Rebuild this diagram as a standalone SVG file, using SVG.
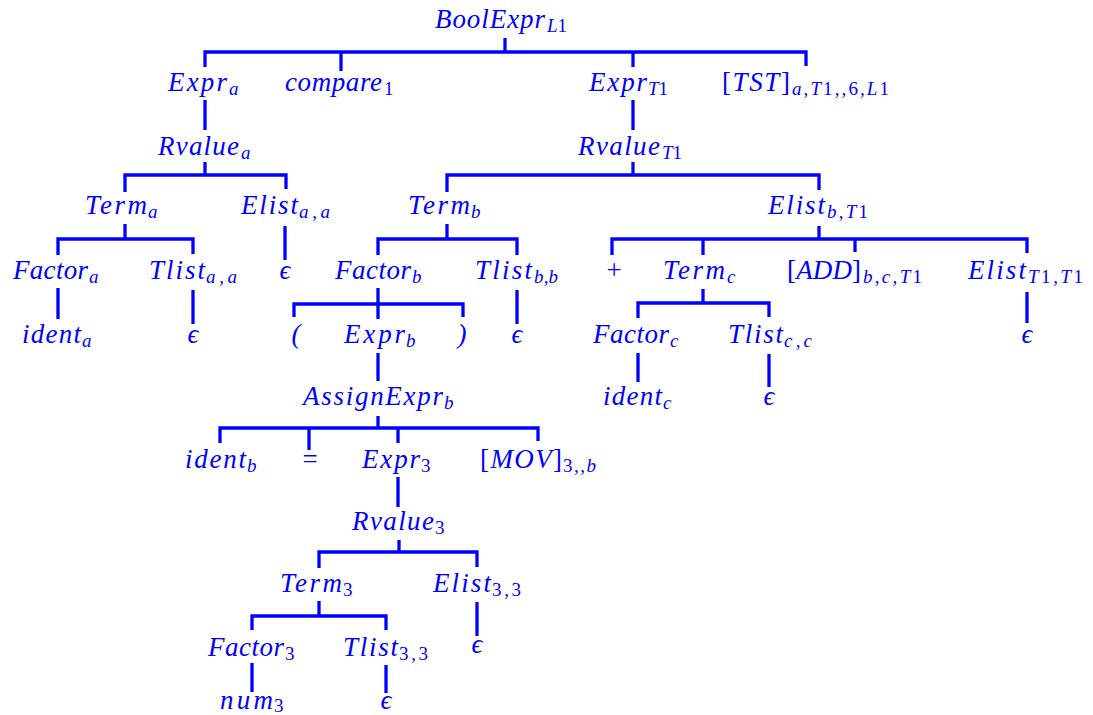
<svg xmlns="http://www.w3.org/2000/svg" width="1093" height="715" viewBox="0 0 1093 715">
<style>
.t{font-family:"Liberation Serif","DejaVu Serif",serif;font-style:italic;font-size:27px;fill:#0000ff}
.s{font-size:19px}
.u{font-style:normal}
.c{text-anchor:middle}
#edges path{fill:none;stroke:#0000ff;stroke-width:3.3;stroke-linejoin:miter;stroke-linecap:butt}
</style>
<rect width="1093" height="715" fill="#ffffff"/>
<g id="edges">
<path d="M505 38V52M205 67V52H806V66M341 52V71M633 52V67"/>
<path d="M205 100V130M633 100V130"/>
<path d="M205 162V175M125 192V175H286V189"/>
<path d="M633 162V175M447 192V175H819V190"/>
<path d="M125 224V239M58 255V239H193V254"/>
<path d="M285 226V260"/>
<path d="M447 224V239M378 255V239H517V255"/>
<path d="M819 226V239M612 255V239H1027V253M703 239V255M855 239V252"/>
<path d="M58 288V319M193 290V324"/>
<path d="M378 288V319M294 317V304H463V317"/>
<path d="M517 290V324"/>
<path d="M703 289V303M638 318V303H769V317"/>
<path d="M1027 292V323"/>
<path d="M378 353V381"/>
<path d="M638 353V382M769 354V387"/>
<path d="M378 416V428M220 443V428H538V441M309 428V450M398 428V443"/>
<path d="M398 477V507"/>
<path d="M399 540V552M319 568V552H477V567"/>
<path d="M319 601V616M252 630V616H386V630"/>
<path d="M477 602V636"/>
<path d="M252 663V692M386 665V693"/>
</g>
<g id="n-boolexpr"><text class="t" x="435" y="28"><tspan textLength="110" lengthAdjust="spacing">BoolExpr</tspan><tspan class="s" x="547" y="32">L<tspan class="u">1</tspan></tspan></text></g>
<g id="n-expr-a"><text class="t" x="168" y="91"><tspan textLength="59" lengthAdjust="spacing">Expr</tspan><tspan class="s" x="229" y="95">a</tspan></text></g>
<g id="n-compare"><text class="t" x="285" y="91"><tspan textLength="97" lengthAdjust="spacing">compare</tspan><tspan class="s u" x="384" y="95">1</tspan></text></g>
<g id="n-expr-t1"><text class="t" x="589" y="91"><tspan textLength="58" lengthAdjust="spacing">Expr</tspan><tspan class="s" x="648" y="95">T<tspan class="u">1</tspan></tspan></text></g>
<g id="n-tst"><text class="t" x="722" y="91"><tspan textLength="68" lengthAdjust="spacing"><tspan class="u">[</tspan>TST<tspan class="u">]</tspan></tspan><tspan class="s" x="792" y="95" textLength="97" lengthAdjust="spacing">a<tspan class="u">,</tspan>T<tspan class="u">1,,6,</tspan>L<tspan class="u">1</tspan></tspan></text></g>
<g id="n-rvalue-a"><text class="t" x="158" y="155"><tspan textLength="81" lengthAdjust="spacing">Rvalue</tspan><tspan class="s" x="241" y="159">a</tspan></text></g>
<g id="n-rvalue-t1"><text class="t" x="578" y="155"><tspan textLength="82" lengthAdjust="spacing">Rvalue</tspan><tspan class="s" x="662" y="159">T<tspan class="u">1</tspan></tspan></text></g>
<g id="n-term-a"><text class="t" x="85" y="214"><tspan textLength="62" lengthAdjust="spacing">Term</tspan><tspan class="s" x="148" y="218">a</tspan></text></g>
<g id="n-elist-aa"><text class="t" x="241" y="214"><tspan textLength="57" lengthAdjust="spacing">Elist</tspan><tspan class="s" x="299" y="218" textLength="31" lengthAdjust="spacing">a<tspan class="u">,</tspan>a</tspan></text></g>
<g id="n-term-b"><text class="t" x="408" y="214"><tspan textLength="62" lengthAdjust="spacing">Term</tspan><tspan class="s" x="471" y="218">b</tspan></text></g>
<g id="n-elist-bt1"><text class="t" x="768" y="214"><tspan textLength="57" lengthAdjust="spacing">Elist</tspan><tspan class="s" x="827" y="218" textLength="41" lengthAdjust="spacing">b<tspan class="u">,</tspan>T<tspan class="u">1</tspan></tspan></text></g>
<g id="n-factor-a"><text class="t" x="13" y="279"><tspan textLength="75" lengthAdjust="spacing">Factor</tspan><tspan class="s" x="89" y="283">a</tspan></text></g>
<g id="n-tlist-aa"><text class="t" x="149" y="279"><tspan textLength="56" lengthAdjust="spacing">Tlist</tspan><tspan class="s" x="206" y="283" textLength="31" lengthAdjust="spacing">a<tspan class="u">,</tspan>a</tspan></text></g>
<g id="n-eps-1"><text class="t c" x="285" y="279">ϵ</text></g>
<g id="n-factor-b"><text class="t" x="335" y="279"><tspan textLength="76" lengthAdjust="spacing">Factor</tspan><tspan class="s" x="412" y="283">b</tspan></text></g>
<g id="n-tlist-bb"><text class="t" x="475" y="279"><tspan textLength="57" lengthAdjust="spacing">Tlist</tspan><tspan class="s" x="534" y="283" textLength="24" lengthAdjust="spacing">b<tspan class="u">,</tspan>b</tspan></text></g>
<g id="n-plus"><text class="t c u" x="614" y="279">+</text></g>
<g id="n-term-c"><text class="t" x="663" y="279"><tspan textLength="62" lengthAdjust="spacing">Term</tspan><tspan class="s" x="727" y="283">c</tspan></text></g>
<g id="n-add"><text class="t" x="787" y="279"><tspan textLength="74" lengthAdjust="spacing"><tspan class="u">[</tspan>ADD<tspan class="u">]</tspan></tspan><tspan class="s" x="863" y="283" textLength="59" lengthAdjust="spacing">b<tspan class="u">,</tspan>c<tspan class="u">,</tspan>T<tspan class="u">1</tspan></tspan></text></g>
<g id="n-elist-t1t1"><text class="t" x="968" y="279"><tspan textLength="58" lengthAdjust="spacing">Elist</tspan><tspan class="s" x="1028" y="283" textLength="55" lengthAdjust="spacing">T<tspan class="u">1,</tspan>T<tspan class="u">1</tspan></tspan></text></g>
<g id="n-ident-a"><text class="t" x="22" y="343"><tspan textLength="59" lengthAdjust="spacing">ident</tspan><tspan class="s" x="82" y="347">a</tspan></text></g>
<g id="n-eps-2"><text class="t c" x="193" y="343">ϵ</text></g>
<g id="n-lparen"><text class="t c" x="296" y="343">(</text></g>
<g id="n-expr-b"><text class="t" x="344" y="343"><tspan textLength="61" lengthAdjust="spacing">Expr</tspan><tspan class="s" x="406" y="347">b</tspan></text></g>
<g id="n-rparen"><text class="t c" x="462" y="343">)</text></g>
<g id="n-eps-3"><text class="t c" x="517" y="343">ϵ</text></g>
<g id="n-factor-c"><text class="t" x="593" y="343"><tspan textLength="76" lengthAdjust="spacing">Factor</tspan><tspan class="s" x="670" y="347">c</tspan></text></g>
<g id="n-tlist-cc"><text class="t" x="728" y="343"><tspan textLength="55" lengthAdjust="spacing">Tlist</tspan><tspan class="s" x="784" y="347" textLength="28" lengthAdjust="spacing">c<tspan class="u">,</tspan>c</tspan></text></g>
<g id="n-eps-4"><text class="t c" x="1027" y="343">ϵ</text></g>
<g id="n-assign"><text class="t" x="303" y="405"><tspan textLength="140" lengthAdjust="spacing">AssignExpr</tspan><tspan class="s" x="444" y="409">b</tspan></text></g>
<g id="n-ident-c"><text class="t" x="603" y="405"><tspan textLength="59" lengthAdjust="spacing">ident</tspan><tspan class="s" x="663" y="409">c</tspan></text></g>
<g id="n-eps-5"><text class="t c" x="769" y="405">ϵ</text></g>
<g id="n-ident-b"><text class="t" x="185" y="468"><tspan textLength="61" lengthAdjust="spacing">ident</tspan><tspan class="s" x="247" y="472">b</tspan></text></g>
<g id="n-eq"><text class="t c u" x="310" y="468">=</text></g>
<g id="n-expr-3"><text class="t" x="362" y="468"><tspan textLength="58" lengthAdjust="spacing">Expr</tspan><tspan class="s u" x="421" y="472">3</tspan></text></g>
<g id="n-mov"><text class="t" x="480" y="468"><tspan textLength="82" lengthAdjust="spacing"><tspan class="u">[</tspan>MOV<tspan class="u">]</tspan></tspan><tspan class="s" x="563" y="472" textLength="33" lengthAdjust="spacing"><tspan class="u">3,,</tspan>b</tspan></text></g>
<g id="n-rvalue-3"><text class="t" x="352" y="530"><tspan textLength="82" lengthAdjust="spacing">Rvalue</tspan><tspan class="s u" x="435" y="534">3</tspan></text></g>
<g id="n-term-3"><text class="t" x="280" y="592"><tspan textLength="62" lengthAdjust="spacing">Term</tspan><tspan class="s u" x="343" y="596">3</tspan></text></g>
<g id="n-elist-33"><text class="t" x="433" y="592"><tspan textLength="58" lengthAdjust="spacing">Elist</tspan><tspan class="s u" x="492" y="596" textLength="29" lengthAdjust="spacing">3,3</tspan></text></g>
<g id="n-factor-3"><text class="t" x="208" y="656"><tspan textLength="76" lengthAdjust="spacing">Factor</tspan><tspan class="s u" x="285" y="660">3</tspan></text></g>
<g id="n-tlist-33"><text class="t" x="343" y="656"><tspan textLength="55" lengthAdjust="spacing">Tlist</tspan><tspan class="s u" x="399" y="660" textLength="29" lengthAdjust="spacing">3,3</tspan></text></g>
<g id="n-eps-6"><text class="t c" x="477" y="653">ϵ</text></g>
<g id="n-num-3"><text class="t" x="220" y="709"><tspan textLength="53" lengthAdjust="spacing">num</tspan><tspan class="s u" x="274" y="712">3</tspan></text></g>
<g id="n-eps-7"><text class="t c" x="386" y="709">ϵ</text></g>
</svg>
